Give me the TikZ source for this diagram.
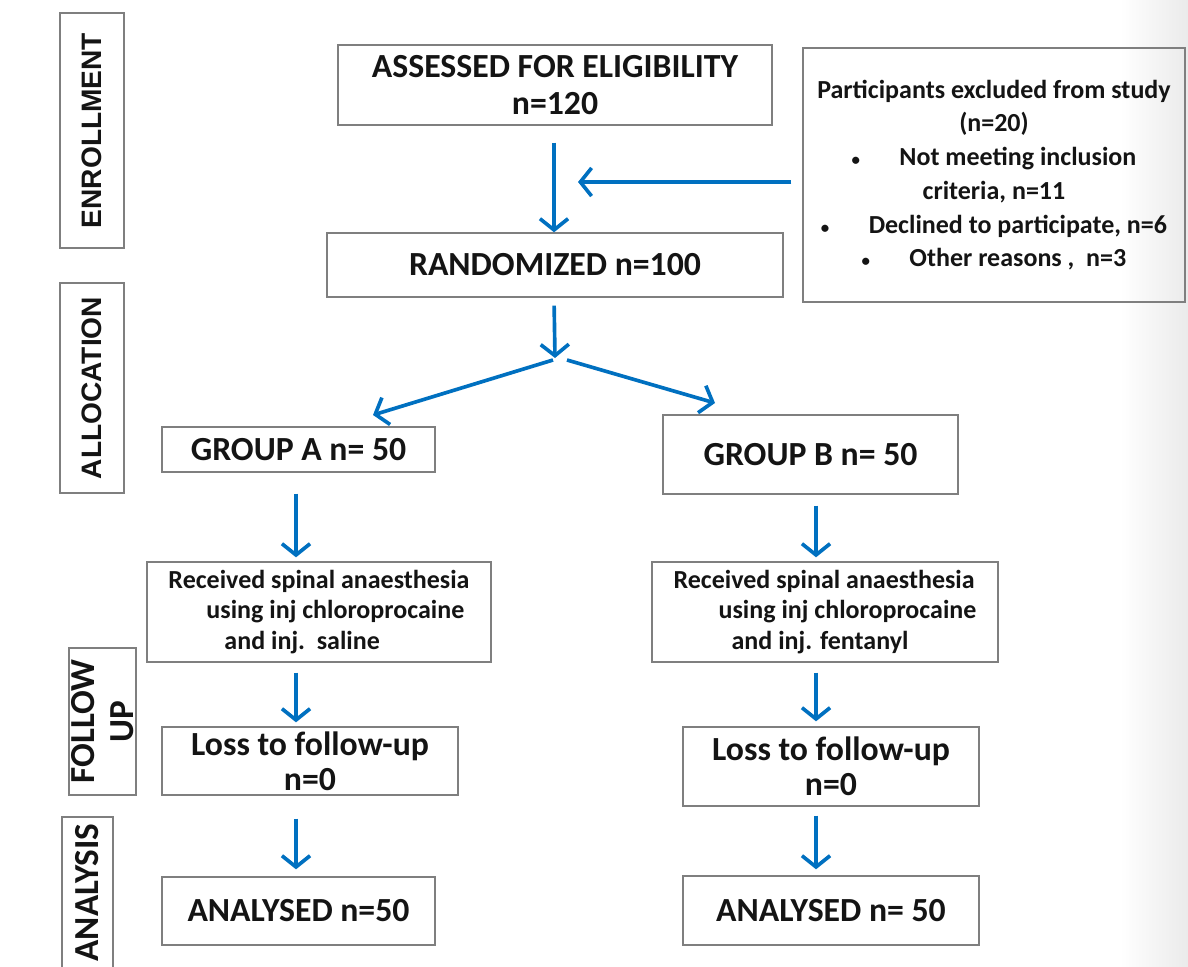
\documentclass[tikz,border=0pt]{standalone}
\usepackage{fontspec}
\setmainfont{Carlito}
\newfontfamily\arialfont{Liberation Sans}
\usetikzlibrary{arrows.meta}

\definecolor{flowblue}{HTML}{0070C0}
\definecolor{framegray}{HTML}{7F7F7F}
\newlength\px
\setlength\px{0.025cm}
\newcommand\smallbul{{\fontsize{12}{12}\selectfont\textbullet}}

\tikzset{
  box/.style={draw=framegray, line width=1pt, inner sep=0pt, align=center, text=black!92},
  wh/.style 2 args={minimum width=#1\px, minimum height=#2\px},
  stage/.style={box, rotate=90},
  headtxt/.style={font=\fontsize{24}{26}\selectfont\bfseries},
  bodytxt/.style={font=\fontsize{18.5}{22}\selectfont\bfseries},
  losstxt/.style={font=\fontsize{24}{25}\selectfont\bfseries},
  arr/.style={draw=flowblue, line width=2.6pt, -{Straight Barb[length=8pt,width=20pt]}},
}

\begin{document}
\begin{tikzpicture}[x=0.025cm,y=-0.025cm]

      \useasboundingbox (0,0) rectangle (1188,966);
      \shade[left color=white, right color=black!8] (1120,0) rectangle (1188,966);

      % stages
      \node[stage, wh={235}{64}, font=\arialfont\bfseries\fontsize{20}{24}\selectfont] (enrol) at (92,130.5) {ENROLLMENT};
      \node[stage, wh={210}{64}, font=\arialfont\bfseries\fontsize{20}{24}\selectfont] (alloc) at (92,388) {ALLOCATION};
      \node[stage, wh={147}{67}, font=\fontsize{25}{28}\selectfont\bfseries] (follow) at (102.5,721.5) {FOLLOW\\UP};
      \node[stage, wh={151}{51}, font=\fontsize{25}{28}\selectfont\bfseries] (analysis) at (87.5,892.5) {ANALYSIS};

      % enrollment
      \node[box, wh={434}{80}, headtxt] (assess) at (555,85) {ASSESSED FOR ELIGIBILITY\\n=120};
      \node[box, wh={382}{254}, font=\fontsize{18.5}{24}\selectfont\bfseries] (excl) at (994,175)
        {Participants excluded from study\\(n=20)\\
         \smallbul\hspace{28pt}Not meeting inclusion\\criteria, n=11\\
         \smallbul\hspace{28pt}Declined to participate, n=6\\
         \smallbul\hspace{28pt}Other reasons ,~~n=3};
      \node[box, wh={456}{64}, headtxt] (rand) at (555,265) {RANDOMIZED n=100};

      % groups
      \node[box, wh={273}{45}, headtxt] (grpA) at (298.5,449.5) {GROUP A n= 50};
      \node[box, wh={295}{79}, headtxt] (grpB) at (810.5,454.5) {GROUP B n= 50};

      \node[box, wh={344}{100}, bodytxt, align=left] (recA) at (319,612)
        {Received spinal anaesthesia\\\hspace*{38\px}using inj chloroprocaine\\\hspace*{56\px}and inj.~~saline};
      \node[box, wh={346}{100}, bodytxt, align=left] (recB) at (825,612)
        {Received spinal anaesthesia\\\hspace*{45\px}using inj chloroprocaine\\\hspace*{58\px}and inj. fentanyl};

      \node[box, wh={296}{68}, losstxt] (lossA) at (310,761) {Loss to follow-up\\n=0};
      \node[box, wh={296}{79}, losstxt] (lossB) at (831,766.5) {Loss to follow-up\\n=0};

      \node[box, wh={273}{68}, headtxt] (anaA) at (298.5,911) {ANALYSED n=50};
      \node[box, wh={296}{69}, headtxt] (anaB) at (831,910.5) {ANALYSED n= 50};

      % arrows
      \coordinate (colM) at (554,0);
      \coordinate (colA) at (296,0);
      \coordinate (colB) at (816,0);
      \coordinate (mrg) at (578,182);
      \coordinate (split) at (555,358);
      \coordinate (splitL) at (553,360);
      \coordinate (splitR) at (567,360);
      \coordinate (tipA) at (373,415);
      \coordinate (tipB) at (715,403);

      \draw[arr, shorten <=17\px] (assess.south -| colM) -- (rand.north -| colM);
      \draw[arr, shorten <=11\px] (excl.west |- mrg) -- (mrg);
      \draw[arr, shorten <=8\px] (rand.south -| colM) -- (split);
      \draw[arr] (splitL) -- (tipA);
      \draw[arr] (splitR) -- (tipB);

      \draw[arr, shorten <=21\px, shorten >=4\px] (grpA.south -| colA) -- (recA.north -| colA);
      \draw[arr, shorten <=11\px, shorten >=4\px] (grpB.south -| colB) -- (recB.north -| colB);
      \draw[arr, shorten <=10\px, shorten >=4\px] (recA.south -| colA) -- (lossA.north -| colA);
      \draw[arr, shorten <=10\px, shorten >=5\px] (recB.south -| colB) -- (lossB.north -| colB);
      \draw[arr, shorten <=23\px, shorten >=7\px] (lossA.south -| colA) -- (anaA.north -| colA);
      \draw[arr, shorten <=9\px, shorten >=6\px] (lossB.south -| colB) -- (anaB.north -| colB);

    \end{tikzpicture}
\end{document}
